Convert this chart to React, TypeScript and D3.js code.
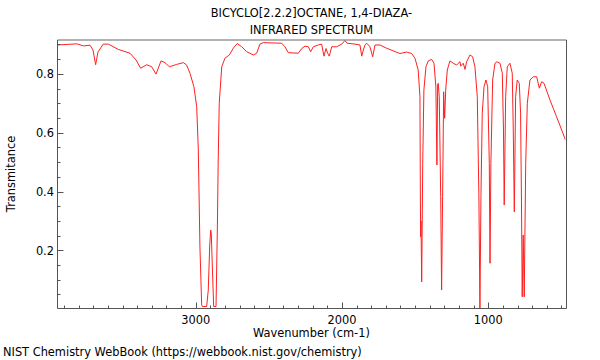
import React from "react";
import * as d3 from "d3";

const titleLines = ["BICYCLO[2.2.2]OCTANE, 1,4-DIAZA-", "INFRARED SPECTRUM"];
const xLabel = "Wavenumber (cm-1)";
const yLabel = "Transmitance";
const footer = "NIST Chemistry WebBook (https://webbook.nist.gov/chemistry)";

const xMajorTicks = [3000, 2000, 1000];
const yMajorTicks = [0.2, 0.4, 0.6, 0.8];

const wavenumber = [
  3946, 3813, 3768, 3722, 3702, 3684, 3668, 3632, 3597, 3529, 3449, 3408, 3376, 3335, 3301, 3271,
  3237, 3210, 3180, 3130, 3085, 3062, 3039, 3012, 2993, 2982, 2971, 2959, 2954, 2925, 2914, 2904,
  2897, 2893, 2887, 2877, 2861, 2852, 2846, 2839, 2822, 2800, 2770, 2743, 2716, 2686, 2651, 2606,
  2583, 2561, 2538, 2412, 2390, 2367, 2299, 2275, 2253, 2230, 2214, 2196, 2162, 2139, 2123, 2109,
  2098, 2087, 2070, 2036, 2002, 1980, 1964, 1911, 1877, 1865, 1854, 1843, 1831, 1809, 1790, 1774,
  1740, 1695, 1649, 1604, 1558, 1524, 1501, 1479, 1467, 1464, 1462, 1460, 1455, 1448, 1440, 1426,
  1410, 1387, 1371, 1358, 1351, 1346, 1342, 1335, 1325, 1319, 1312, 1305, 1298, 1291, 1280, 1262,
  1239, 1216, 1205, 1193, 1189, 1182, 1171, 1159, 1148, 1125, 1107, 1091, 1075, 1064, 1057, 1050,
  1041, 1029, 1016, 1004, 993, 988, 982, 970, 954, 941, 920, 904, 896, 891, 881, 870,
  852, 836, 829, 822, 813, 802, 788, 779, 773, 768, 761, 754, 744, 733, 715, 692,
  669, 651, 635, 619, 578, 533, 498, 472,
];

const transmittance = [
  0.898, 0.902, 0.895, 0.897, 0.881, 0.831, 0.874, 0.901, 0.901, 0.883, 0.870, 0.847, 0.819, 0.831, 0.824, 0.799,
  0.844, 0.838, 0.824, 0.832, 0.838, 0.830, 0.802, 0.756, 0.688, 0.541, 0.212, 0.014, 0.009, 0.009, 0.065, 0.218,
  0.269, 0.252, 0.157, 0.009, 0.009, 0.269, 0.507, 0.700, 0.824, 0.853, 0.864, 0.887, 0.903, 0.892, 0.875, 0.864,
  0.870, 0.901, 0.906, 0.904, 0.892, 0.872, 0.870, 0.886, 0.894, 0.892, 0.875, 0.892, 0.898, 0.901, 0.860, 0.886,
  0.870, 0.860, 0.892, 0.892, 0.901, 0.913, 0.904, 0.901, 0.898, 0.860, 0.881, 0.898, 0.904, 0.892, 0.858, 0.898,
  0.898, 0.887, 0.878, 0.869, 0.874, 0.869, 0.853, 0.813, 0.722, 0.371, 0.246, 0.300, 0.093, 0.496, 0.745, 0.824,
  0.844, 0.849, 0.836, 0.756, 0.490, 0.762, 0.768, 0.722, 0.382, 0.065, 0.382, 0.739, 0.649, 0.745, 0.813, 0.844,
  0.836, 0.830, 0.836, 0.841, 0.826, 0.830, 0.836, 0.815, 0.841, 0.864, 0.858, 0.824, 0.722, 0.382, 0.004, 0.382,
  0.666, 0.756, 0.779, 0.756, 0.496, 0.156, 0.496, 0.779, 0.836, 0.841, 0.836, 0.802, 0.609, 0.354, 0.722, 0.824,
  0.836, 0.802, 0.609, 0.331, 0.722, 0.779, 0.768, 0.666, 0.371, 0.042, 0.252, 0.042, 0.496, 0.700, 0.779, 0.790,
  0.790, 0.751, 0.773, 0.768, 0.711, 0.654, 0.609, 0.575,
];

const W = 600;
const H = 360;
const left = 57.3;
const right = 565.5;
const top = 39.7;
const bottom = 308.3;

export default function App() {
  const x = d3.scaleLinear().domain([3946, 472]).range([left, right]);
  const y = d3.scaleLinear().domain([0.003, 0.916]).range([bottom, top]);

  const pts: [number, number][] = wavenumber.map((w, i) => [w, transmittance[i]]);
  const line = d3
    .line<[number, number]>()
    .x((d) => x(d[0]))
    .y((d) => y(d[1]));

  const xMinor = d3.range(3900, 450, -100).filter((v) => !xMajorTicks.includes(v));
  const yMinor = d3.range(0.05, 0.91, 0.05).filter(
    (v) => !yMajorTicks.some((m) => Math.abs(m - v) < 1e-6)
  );

  const font = "DejaVu Sans, sans-serif";
  const fs = 11.4;
  const axisColor = "#555";
  const L = Math.round(left) + 0.5;
  const B = Math.round(bottom) + 0.5;
  const R = Math.round(right) + 0.5;
  const T = 40;

  return (
    <div style={{ position: "absolute", left: 0, top: 0 }}>
      <svg width={W} height={H} style={{ display: "block" }}>
        <rect x={0} y={0} width={W} height={H} fill="white" />
        <defs>
          <clipPath id="plotclip">
            <rect x={left} y={top} width={right - left} height={bottom - top} />
          </clipPath>
        </defs>
        {titleLines.map((t, i) => (
          <text
            key={i}
            x={(left + right) / 2}
            y={17 + i * 17}
            textAnchor="middle"
            fontFamily={font}
            fontSize={fs}
            fill="#000"
          >
            {t}
          </text>
        ))}
        <path
          d={line(pts) || ""}
          fill="none"
          stroke="#ff2020"
          strokeWidth={1}
          clipPath="url(#plotclip)"
        />
        <line x1={L} x2={R} y1={T} y2={T} stroke="#666" strokeWidth={1} />
        <line x1={R} x2={R} y1={T} y2={B} stroke={axisColor} strokeWidth={1} />
        <line x1={L} x2={L} y1={T} y2={B} stroke={axisColor} strokeWidth={1} />
        <line x1={L} x2={R} y1={B} y2={B} stroke={axisColor} strokeWidth={1} />
        {xMinor.map((v) => (
          <line key={"xm" + v} x1={Math.round(x(v)) + 0.5} x2={Math.round(x(v)) + 0.5} y1={B} y2={B - 3} stroke={axisColor} />
        ))}
        {xMajorTicks.map((v) => (
          <g key={"xM" + v}>
            <line x1={Math.round(x(v)) + 0.5} x2={Math.round(x(v)) + 0.5} y1={B} y2={B - 6} stroke={axisColor} />
            <text x={x(v)} y={324} textAnchor="middle" fontFamily={font} fontSize={fs} fill="#000">
              {v}
            </text>
          </g>
        ))}
        {yMinor.map((v) => (
          <line key={"ym" + v} x1={L} x2={L + 3} y1={Math.round(y(v)) + 0.5} y2={Math.round(y(v)) + 0.5} stroke={axisColor} />
        ))}
        {yMajorTicks.map((v) => (
          <g key={"yM" + v}>
            <line x1={L} x2={L + 6} y1={Math.round(y(v)) + 0.5} y2={Math.round(y(v)) + 0.5} stroke={axisColor} />
            <text x={54} y={y(v) + 4.2} textAnchor="end" fontFamily={font} fontSize={fs} fill="#000">
              {v.toFixed(1)}
            </text>
          </g>
        ))}
        <text x={(left + right) / 2} y={337} textAnchor="middle" fontFamily={font} fontSize={fs} fill="#000">
          {xLabel}
        </text>
        <text
          transform={`translate(15, ${(top + bottom) / 2}) rotate(-90)`}
          textAnchor="middle"
          fontFamily={font}
          fontSize={fs}
          fill="#000"
        >
          {yLabel}
        </text>
        <text x={3} y={356} fontFamily={font} fontSize={fs} fill="#000">
          {footer}
        </text>
      </svg>
    </div>
  );
}
